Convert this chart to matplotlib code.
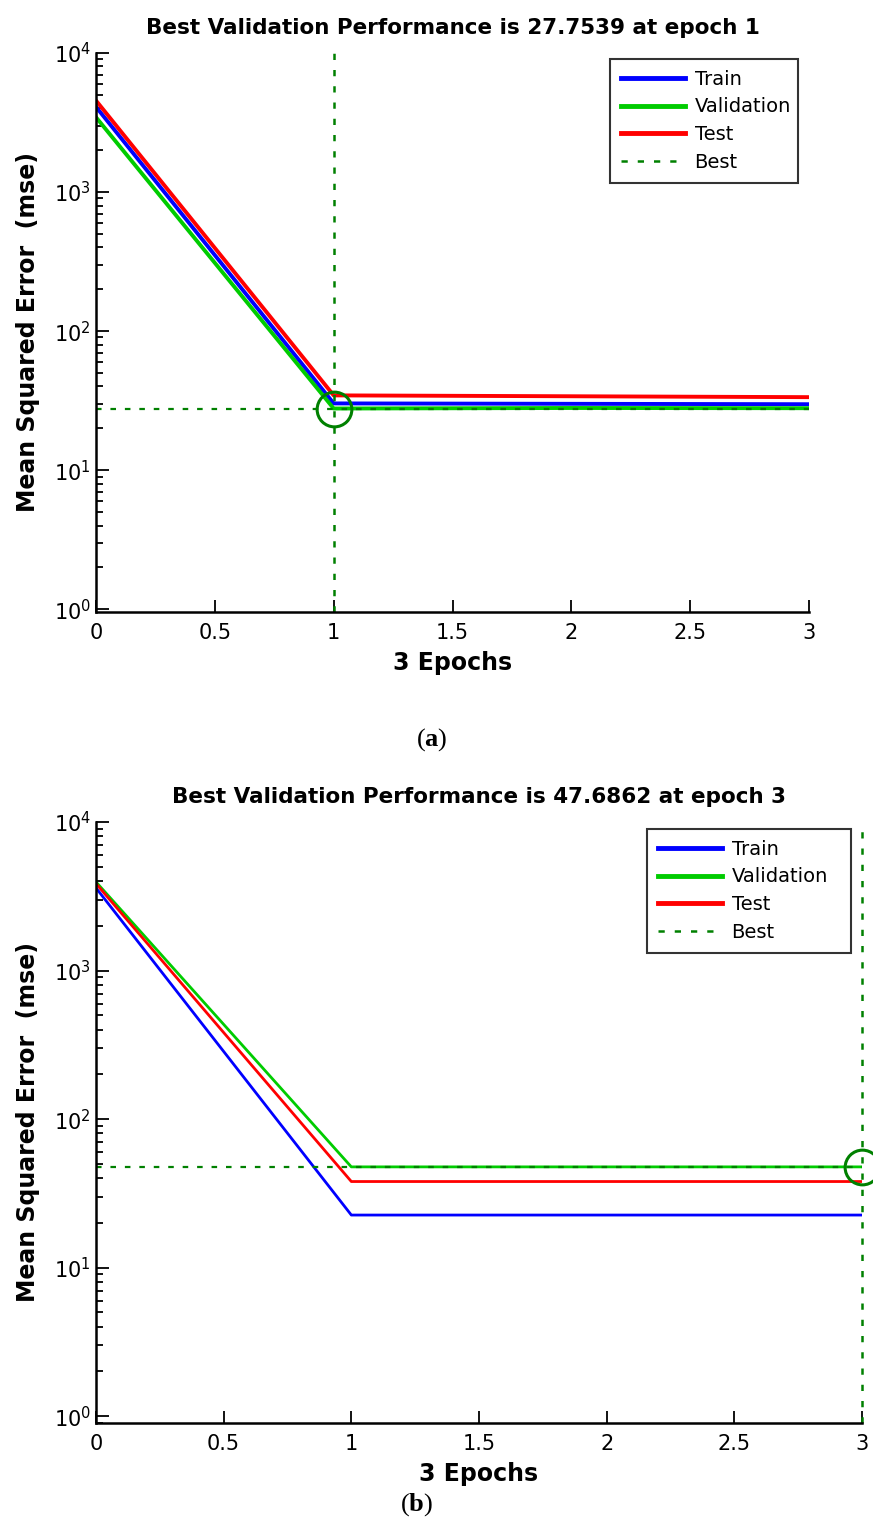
import numpy as np
import matplotlib
matplotlib.use('Agg')
import matplotlib.pyplot as plt

plt.rcParams['font.family'] = ['DejaVu Sans']
plt.rcParams['mathtext.fontset'] = 'custom'
plt.rcParams['mathtext.rm'] = 'DejaVu Sans'
plt.rcParams['mathtext.bf'] = 'Liberation Serif:bold'

epochs = [0, 1, 2, 3]

# run (a)
train_a = [4100, 30.2, 30.0, 29.8]
val_a = [3450, 27.7539, 28.0, 27.9]
test_a = [4550, 34.5, 34.0, 33.5]
best_epoch_a = 1
best_val_a = 27.7539

# run (b)
train_b = [3600, 22.6, 22.6, 22.6]
val_b = [3950, 47.6862, 47.6862, 47.6862]
test_b = [3850, 38.0, 38.0, 38.0]
best_epoch_b = 3
best_val_b = 47.6862

W, H = 873, 1530
fig = plt.figure(figsize=(W / 100, H / 100), dpi=100)

best_green = (0, 0.5, 0)


def perf_panel(rect, train, val, test, best_ep, best_v, lw, ymin, leg_box):
    ax = fig.add_axes(rect)
    ax.semilogy(epochs, train, color='b', lw=lw, label='Train')
    ax.semilogy(epochs, val, color=(0, 0.8, 0), lw=lw, label='Validation')
    ax.semilogy(epochs, test, color='r', lw=lw, label='Test')
    ax.axvline(best_ep, color=best_green, ls=(0, (2.5, 4)), lw=1.8, label='Best',
               clip_on=False)
    ax.axhline(best_v, color=best_green, ls=(0, (2.5, 4)), lw=1.6)
    ax.plot([best_ep], [best_v], 'o', ms=25, mfc='none', mec=best_green, mew=2.2,
            clip_on=False)
    ax.set_xlim(0, 3)
    ax.set_ylim(ymin, 1e4)
    ax.set_xticks([0, 0.5, 1, 1.5, 2, 2.5, 3])
    ax.set_xticklabels(['0', '0.5', '1', '1.5', '2', '2.5', '3'])
    ax.spines['top'].set_visible(False)
    ax.spines['right'].set_visible(False)
    ax.spines['left'].set_linewidth(1.8)
    ax.spines['bottom'].set_linewidth(1.8)
    ax.tick_params(which='both', direction='in', labelsize=15, width=1.3)
    ax.tick_params(which='major', length=9)
    ax.tick_params(which='minor', length=5)
    ax.tick_params(axis='x', pad=8)
    ax.set_title('Best Validation Performance is %g at epoch %d' % (best_v, best_ep),
                 fontsize=15.5, fontweight='bold', pad=14)
    ax.set_xlabel('3 Epochs', fontsize=17, fontweight='bold', labelpad=6)
    ax.set_ylabel('Mean Squared Error  (mse)', fontsize=17, fontweight='bold', labelpad=10)
    leg = ax.legend(loc='upper left', bbox_to_anchor=leg_box, bbox_transform=fig.transFigure,
                    fontsize=14, frameon=True, fancybox=False, handlelength=3.3,
                    borderpad=0.55, labelspacing=0.45, handletextpad=0.5, mode='expand',
                    borderaxespad=0)
    leg.get_frame().set_edgecolor('black')
    leg.get_frame().set_linewidth(1.5)
    for h in leg.legend_handles[:3]:
        h.set_linewidth(3.5)
    return ax


def fr(x0, y0, x1, y1):
    return [x0 / W, 1 - y1 / H, (x1 - x0) / W, (y1 - y0) / H]


def lb(x0, y0, x1, y1):
    return (x0 / W, 1 - y0 / H, (x1 - x0) / W, 0)


perf_panel(fr(96, 53, 809, 612), train_a, val_a, test_a, best_epoch_a, best_val_a,
           2.8, 0.955, lb(610, 59, 798, 189))
perf_panel(fr(96, 822, 862, 1423), train_b, val_b, test_b, best_epoch_b, best_val_b,
           2.0, 0.90, lb(647, 829, 851, 969))

fig.text(432 / W, 1 - 740 / H, r'($\mathbf{a}$)', ha='center', va='center', fontsize=19,
         family='Liberation Serif')
fig.text(417 / W, 1 - 1505 / H, r'($\mathbf{b}$)', ha='center', va='center', fontsize=19,
         family='Liberation Serif')

fig.savefig('out.png', dpi=100, facecolor='white')
